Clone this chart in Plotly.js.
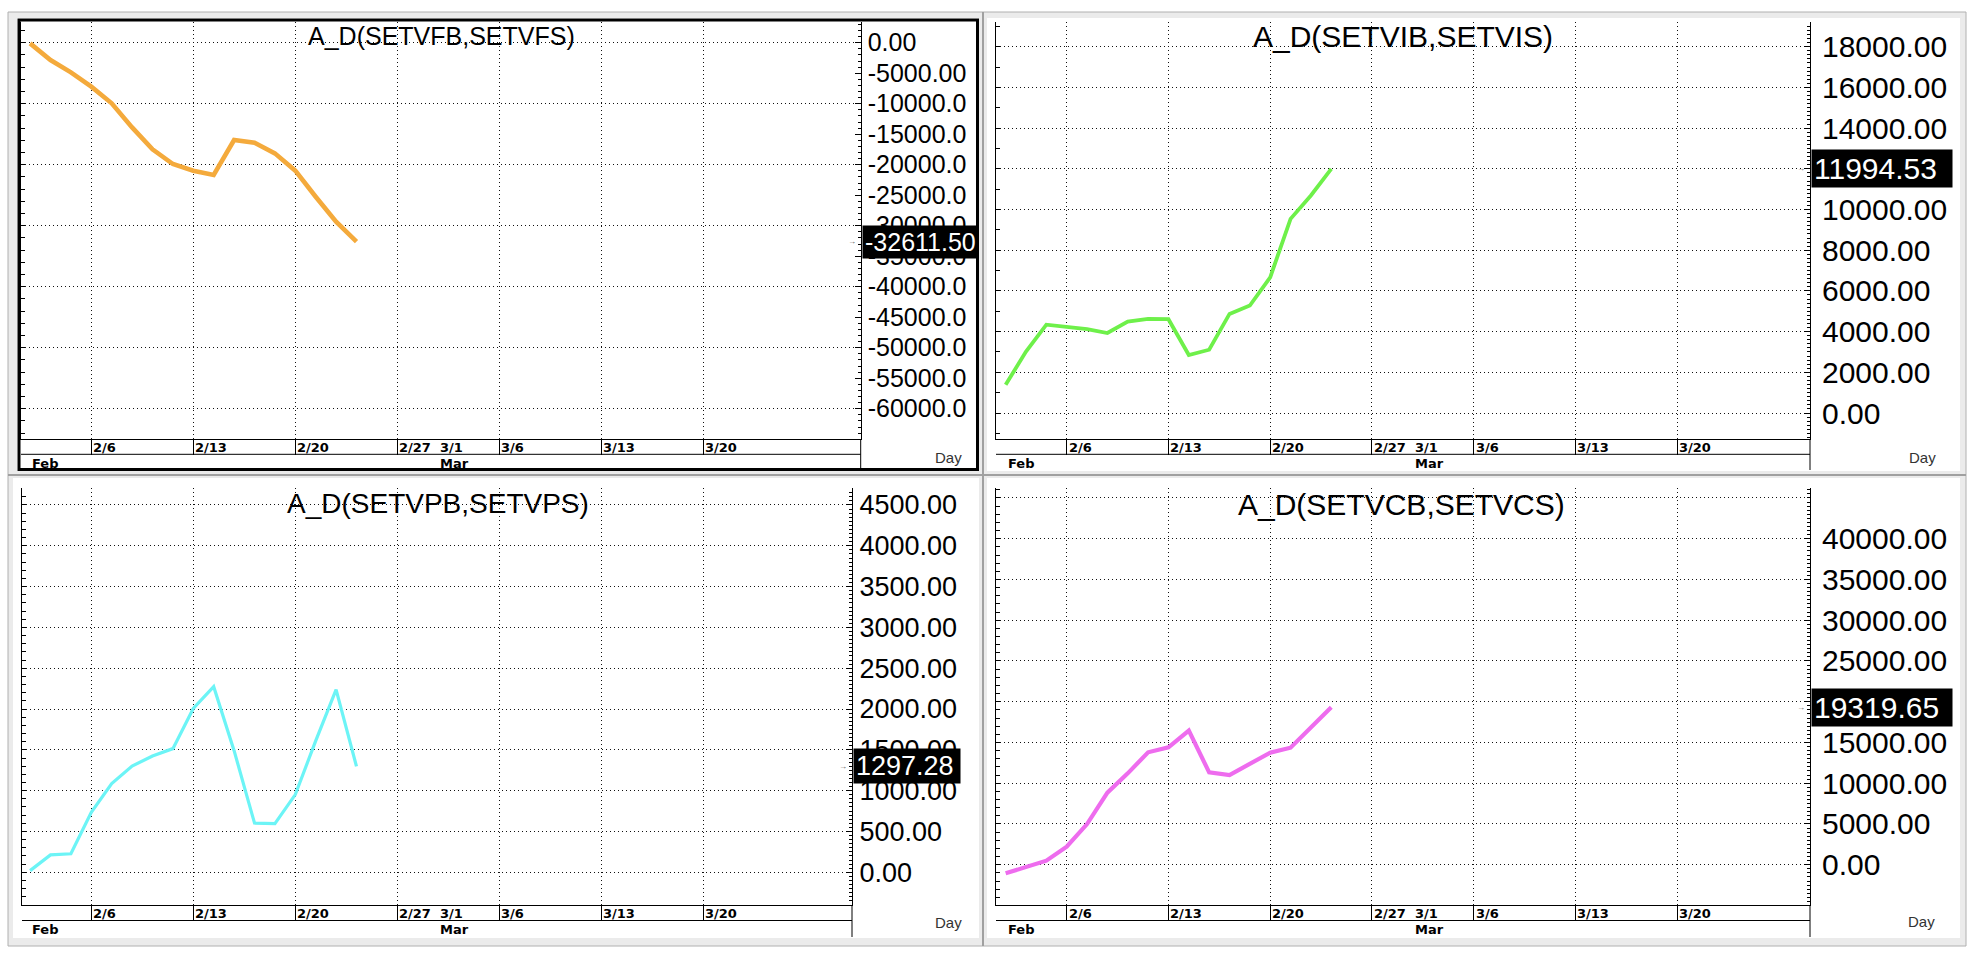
<!DOCTYPE html>
<html>
<head>
<meta charset="utf-8">
<script src="https://cdn.plot.ly/plotly-3.0.1.min.js"></script>
<style>
html,body{margin:0;padding:0;background:#fff;}
#chart{width:1970px;height:954px;}
</style>
</head>
<body>
<div id="chart"></div>
<script>
// ---------------- data ----------------
const dates = ['2023-02-01','2023-02-02','2023-02-03','2023-02-06','2023-02-07','2023-02-08','2023-02-09','2023-02-10',
               '2023-02-13','2023-02-14','2023-02-15','2023-02-16','2023-02-17','2023-02-20','2023-02-21','2023-02-22','2023-02-23'];
const adSETVF = [-110, -2840, -4860, -7210, -9940, -13880, -17490, -19890, -20980, -21690, -15960, -16390, -18140, -20980, -25250, -29340, -32611.50];
const adSETVI = [1390, 3020, 4340, 4210, 4120, 3930, 4490, 4620, 4610, 2850, 3110, 4870, 5280, 6670, 9540, 10690, 11994.53];
const adSETVP = [20, 213, 226, 735, 1088, 1301, 1424, 1515, 2007, 2274, 1490, 603, 595, 952, 1610, 2237, 1297.28];
const adSETVC = [-1060, -330, 490, 2210, 4990, 8840, 11210, 13790, 14400, 16450, 11330, 11010, 12320, 13750, 14360, 16860, 19319.65];

const titles = ['A_D(SETVFB,SETVFS)', 'A_D(SETVIB,SETVIS)', 'A_D(SETVPB,SETVPS)', 'A_D(SETVCB,SETVCS)'];

const dateTickDates  = ['2023-02-06','2023-02-13','2023-02-20','2023-02-27','2023-03-01','2023-03-06','2023-03-13','2023-03-20'];
const dateTickLabels = ['2/6','2/13','2/20','2/27','3/1','3/6','3/13','3/20'];
const gridDates      = ['2023-02-06','2023-02-13','2023-02-20','2023-02-27','2023-03-06','2023-03-13','2023-03-20'];
const monthDates     = ['2023-02-01','2023-03-01'];
const monthLabels    = ['Feb','Mar'];
const periodLabel    = 'Day';

const yTickValsVF = [0,-5000,-10000,-15000,-20000,-25000,-30000,-35000,-40000,-45000,-50000,-55000,-60000];
const yTickTextVF = ['0.00','-5000.00','-10000.0','-15000.0','-20000.0','-25000.0','-30000.0','-35000.0','-40000.0','-45000.0','-50000.0','-55000.0','-60000.0'];
const yTickValsVI = [0,2000,4000,6000,8000,10000,12000,14000,16000,18000];
const yTickTextVI = ['0.00','2000.00','4000.00','6000.00','8000.00','10000.00','12000.00','14000.00','16000.00','18000.00'];
const yTickValsVP = [0,500,1000,1500,2000,2500,3000,3500,4000,4500];
const yTickTextVP = ['0.00','500.00','1000.00','1500.00','2000.00','2500.00','3000.00','3500.00','4000.00','4500.00'];
const yTickValsVC = [0,5000,10000,15000,20000,25000,30000,35000,40000];
const yTickTextVC = ['0.00','5000.00','10000.00','15000.00','20000.00','25000.00','30000.00','35000.00','40000.00'];

// ---------------- layout helpers ----------------
const W = 1970, H = 954;
const fx = x => x / W;
const fy = y => 1 - y / H;
const LABEL_FONT = 'Liberation Sans, Arial, sans-serif';
const DATE_FONT = 'DejaVu Sans, Verdana, sans-serif';
const GRID_DASH = '1px,3px';

const panels = [
  {series: adSETVF, color:'#F4AA3C', width:4.6, vals:yTickValsVF, text:yTickTextVF,
   px:[21,860.7], py:[22,439.3], sep:454.3, bottom:470, xr:['2023-01-31 13:18','2023-03-29 17:11'], yr:[-65016,3393],
   grid:10000, leftMinor:2000, rightMinor:1000, fs:25, tfs:25, stand:1, title:[441,36], day:[948,457], badgeEnd:977},
  {series: adSETVI, color:'#6EF04A', width:3.8, vals:yTickValsVI, text:yTickTextVI,
   px:[996,1810], py:[22,439.3], sep:454.3, bottom:470, xr:['2023-01-31 12:37','2023-03-28 12:36'], yr:[-1292,19214],
   grid:2000, leftMinor:1000, rightMinor:200, fs:30, tfs:30, stand:5, title:[1403,37], day:[1922,457], badgeEnd:1951},
  {series: adSETVP, color:'#6CF4F6', width:3.2, vals:yTickValsVP, text:yTickTextVP,
   px:[22,852], py:[488,905], sep:920.5, bottom:937, xr:['2023-01-31 14:28','2023-03-29 06:58'], yr:[-401,4708],
   grid:500, leftMinor:100, rightMinor:50, fs:27, tfs:28, stand:1, title:[438,503], day:[948,922], badgeEnd:959},
  {series: adSETVC, color:'#EE6CEE', width:4.2, vals:yTickValsVC, text:yTickTextVC,
   px:[996,1810], py:[488,905], sep:920.5, bottom:937, xr:['2023-01-31 12:37','2023-03-28 12:36'], yr:[-4945,46221],
   grid:5000, leftMinor:1000, rightMinor:500, fs:30, tfs:30, stand:5, title:[1401,504], day:[1921,921], badgeEnd:1951}
];

const traces = [];
const layout = {
  width: W, height: H,
  margin: {l:0, r:0, t:0, b:0},
  paper_bgcolor: '#ffffff',
  plot_bgcolor: 'rgba(0,0,0,0)',
  showlegend: false,
  hovermode: false,
  shapes: [],
  annotations: []
};

// page frame & panel backgrounds
layout.shapes.push({type:'rect', xref:'paper', yref:'paper', x0:fx(8), x1:fx(1966), y0:fy(946), y1:fy(12),
  fillcolor:'#ebebeb', line:{color:'#b0b0b0', width:1}, layer:'below'});
layout.shapes.push({type:'line', xref:'paper', yref:'paper', x0:fx(983), x1:fx(983), y0:fy(946), y1:fy(12),
  line:{color:'#a0a0a0', width:2}, layer:'below'});
layout.shapes.push({type:'line', xref:'paper', yref:'paper', x0:fx(8), x1:fx(1966), y0:fy(475), y1:fy(475),
  line:{color:'#a0a0a0', width:2}, layer:'below'});
const panelRects = [[17,979,18,471],[987,1960,18,471],[13,979,478,938],[987,1960,478,938]];
panelRects.forEach(r => layout.shapes.push({type:'rect', xref:'paper', yref:'paper', x0:fx(r[0]), x1:fx(r[1]), y0:fy(r[3]), y1:fy(r[2]),
  fillcolor:'#ffffff', line:{width:0}, layer:'below'}));
// active panel border
layout.shapes.push({type:'rect', xref:'paper', yref:'paper', x0:fx(19), x1:fx(977.5), y0:fy(469.5), y1:fy(20),
  line:{color:'#000', width:3}, layer:'below'});

panels.forEach((p, k) => {
  const i = k + 1;
  const xa = i === 1 ? 'x' : 'x' + i;
  const ya = i === 1 ? 'y' : 'y' + i;
  const yo = 'y' + (i + 4);
  const xdom = [fx(p.px[0]), fx(p.px[1])];
  const ydom = [fy(p.py[1]), fy(p.py[0])];
  const rb = [{bounds:['sat','mon']}];

  traces.push({type:'scatter', mode:'lines', x:dates, y:p.series, xaxis:xa, yaxis:ya,
    line:{color:p.color, width:p.width}, hoverinfo:'skip'});
  // empty trace that registers the label (right-hand) axis subplot
  traces.push({type:'scatter', mode:'lines', x:[], y:[], xaxis:xa, yaxis:yo, hoverinfo:'skip'});

  layout['xaxis' + (i === 1 ? '' : i)] = {
    type:'date', domain:xdom, anchor:ya, range:p.xr, autorange:false, rangebreaks:rb,
    tickmode:'array', tickvals:gridDates, showticklabels:false,
    ticks:'outside', ticklen:15, tickwidth:1, tickcolor:'#000',
    showgrid:true, gridcolor:'#111', gridwidth:1, griddash:GRID_DASH,
    showline:true, linecolor:'#000', linewidth:1, zeroline:false, fixedrange:true
  };
  layout['xaxis' + (i + 4)] = {
    type:'date', overlaying:xa, anchor:ya, range:p.xr, autorange:false, rangebreaks:rb,
    tickmode:'array', tickvals:monthDates.slice(1), showticklabels:false,
    ticks:'outside', ticklen:Math.round(p.bottom - p.py[1]), tickwidth:1, tickcolor:'#000',
    showgrid:false, showline:false, zeroline:false, fixedrange:true
  };
  // main (left) axis: gridlines + left tick marks
  layout['yaxis' + (i === 1 ? '' : i)] = {
    domain:ydom, anchor:xa, side:'left', range:p.yr, autorange:false,
    tickmode:'linear', tick0:0, dtick:p.grid, showticklabels:false,
    ticks:'inside', ticklen:4, tickwidth:1, tickcolor:'#000',
    minor:{tick0:0, dtick:p.leftMinor, ticks:'inside', ticklen:4, tickcolor:'#000', showgrid:false},
    showgrid:true, gridcolor:'#111', gridwidth:1, griddash:GRID_DASH,
    showline:true, linecolor:'#000', linewidth:1, zeroline:false, fixedrange:true
  };
  // overlay (right) axis: value labels
  layout['yaxis' + (i + 4)] = {
    overlaying:ya, anchor:xa, side:'right', range:p.yr, autorange:false,
    tickmode:'array', tickvals:p.vals, ticktext:p.text,
    ticks:'inside', ticklen:6, tickwidth:1, tickcolor:'#000', ticklabelstandoff:p.stand,
    minor:{tick0:0, dtick:p.rightMinor, ticks:'inside', ticklen:3, tickcolor:'#000', showgrid:false},
    tickfont:{family:LABEL_FONT, size:p.fs, color:'#000'},
    showgrid:false, showline:true, linecolor:'#000', linewidth:1, zeroline:false, fixedrange:true
  };

  // axis area lines
  layout.shapes.push({type:'line', xref:'paper', yref:'paper', x0:fx(p.px[0]), x1:fx(p.px[1]), y0:fy(p.sep), y1:fy(p.sep),
    line:{color:'#000', width:1}});
  layout.shapes.push({type:'line', xref:'paper', yref:'paper', x0:fx(p.px[1]), x1:fx(p.px[1]), y0:fy(p.bottom), y1:fy(p.py[1]),
    line:{color:'#000', width:1}});

  // title
  layout.annotations.push({xref:'paper', yref:'paper', x:fx(p.title[0]), y:fy(p.title[1]), xanchor:'center', yanchor:'middle',
    text:titles[k], showarrow:false, font:{family:LABEL_FONT, size:p.tfs, color:'#000'}});

  // date labels
  dateTickDates.forEach((d, j) => {
    layout.annotations.push({xref:xa, yref:'paper', x:d, y:fy((p.py[1] + p.sep) / 2 + 1), xanchor:'left', yanchor:'middle',
      text:'<b>' + dateTickLabels[j] + '</b>', showarrow:false, borderpad:0, xshift:1,
      font:{family:DATE_FONT, size:13, color:'#000'}});
  });
  monthDates.forEach((d, j) => {
    layout.annotations.push({xref:xa, yref:'paper', x:d, y:fy((p.sep + p.bottom) / 2 + 1), xanchor:'left', yanchor:'middle',
      text:'<b>' + monthLabels[j] + '</b>', showarrow:false, borderpad:0, xshift:1,
      font:{family:DATE_FONT, size:13, color:'#000'}});
  });

  // period label
  layout.annotations.push({xref:'paper', yref:'paper', x:fx(p.day[0]), y:fy(p.day[1]), xanchor:'center', yanchor:'middle',
    text:periodLabel, showarrow:false, font:{family:LABEL_FONT, size:15, color:'#333'}});

  // last-value badge
  const last = p.series[p.series.length - 1];
  layout.annotations.push({xref:'paper', yref:ya, x:fx(p.px[1] + 1), y:last, xanchor:'left', yanchor:'middle',
    text:last.toFixed(2), showarrow:false, bgcolor:'#000', borderpad:2,
    width: p.badgeEnd - p.px[1] - 5, align:'left',
    font:{family:LABEL_FONT, size:p.fs, color:'#fff'}});
  layout.annotations.push({xref:'paper', yref:ya, x:fx(p.px[1] - 4), y:last, xanchor:'right', yanchor:'middle',
    text:'→', showarrow:false, borderpad:0, font:{family:LABEL_FONT, size:8, color:'#555'}});
});

Plotly.newPlot('chart', traces, layout, {staticPlot:true, displayModeBar:false});
</script>
</body>
</html>
